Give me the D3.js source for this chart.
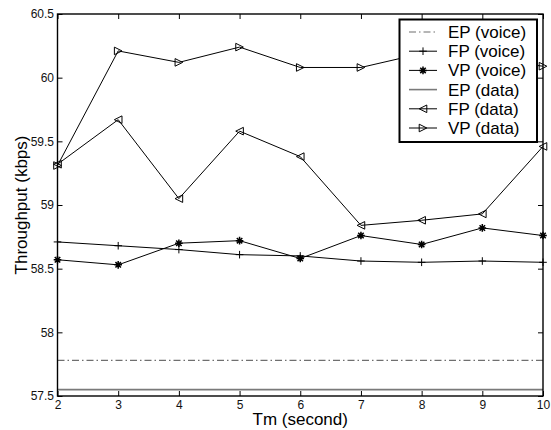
<!DOCTYPE html>
<html>
<head>
<meta charset="utf-8">
<script src="https://cdn.jsdelivr.net/npm/d3@7"></script>
<style>
  html, body { margin: 0; padding: 0; background: #fff; }
  svg { display: block; font-family: "Liberation Sans", Arial, sans-serif; }
</style>
</head>
<body>
<svg id="chart" width="551" height="430"></svg>
<script>
// Throughput vs. measurement interval Tm
const tm = [2, 3, 4, 5, 6, 7, 8, 9, 10];
const epVoice = [57.78, 57.78, 57.78, 57.78, 57.78, 57.78, 57.78, 57.78, 57.78];
const fpVoice = [58.71, 58.68, 58.65, 58.61, 58.60, 58.56, 58.55, 58.56, 58.55];
const vpVoice = [58.57, 58.53, 58.70, 58.72, 58.58, 58.76, 58.69, 58.82, 58.76];
const epData  = [57.55, 57.55, 57.55, 57.55, 57.55, 57.55, 57.55, 57.55, 57.55];
const fpData  = [59.32, 59.67, 59.05, 59.58, 59.38, 58.84, 58.88, 58.93, 59.46];
const vpData  = [59.31, 60.21, 60.12, 60.24, 60.08, 60.08, 60.19, 60.15, 60.09];

const xTicks = [2, 3, 4, 5, 6, 7, 8, 9, 10];
const yTicks = [57.5, 58, 58.5, 59, 59.5, 60, 60.5];
const seriesNames = ["EP (voice)", "FP (voice)", "VP (voice)", "EP (data)", "FP (data)", "VP (data)"];

const svg = d3.select("#chart");
const L = 57.5, R = 543, T = 14, B = 396;

const x = d3.scaleLinear().domain([2, 10]).range([L, R]);
const y = d3.scaleLinear().domain([57.5, 60.5]).range([B, T]);

const grey = "#6f6f6f";
const series = [
  { name: seriesNames[0], values: epVoice, color: grey, dash: "7,3,1.5,3", marker: null, width: 1.2 },
  { name: seriesNames[1], values: fpVoice, color: "#000", dash: null, marker: "plus" },
  { name: seriesNames[2], values: vpVoice, color: "#000", dash: null, marker: "star" },
  { name: seriesNames[3], values: epData,  color: "#7a7a7a", dash: null, marker: null, width: 1.6 },
  { name: seriesNames[4], values: fpData,  color: "#000", dash: null, marker: "tleft" },
  { name: seriesNames[5], values: vpData,  color: "#000", dash: null, marker: "tright" }
];

function markerPath(type) {
  const r = 3.8;
  switch (type) {
    case "plus": return `M${-r},0H${r}M0,${-r}V${r}`;
    case "star": {
      const d = r * 0.72;
      return `M${-r},0H${r}M0,${-r}V${r}M${-d},${-d}L${d},${d}M${-d},${d}L${d},${-d}`;
    }
    case "tleft": return `M${-r},0L${r},${-r}L${r},${r}Z`;
    case "tright": return `M${r},0L${-r},${-r}L${-r},${r}Z`;
  }
  return "";
}

// series lines
const line = d3.line().x((d, i) => x(tm[i])).y(d => y(d));
const plot = svg.append("g");
series.forEach(s => {
  plot.append("path")
    .attr("d", line(s.values))
    .attr("fill", "none")
    .attr("stroke", s.color)
    .attr("stroke-width", s.width || 1)
    .attr("stroke-dasharray", s.dash);
  if (s.marker) {
    plot.selectAll(null).data(s.values).enter().append("path")
      .attr("transform", (d, i) => `translate(${x(tm[i])},${y(d)})`)
      .attr("d", markerPath(s.marker))
      .attr("fill", "none")
      .attr("stroke", s.color)
      .attr("stroke-width", s.marker === "star" ? 1.5 : 1);
  }
});

// axes with inward ticks on all four sides
function styleAxis(g) {
  g.select(".domain").remove();
  g.selectAll(".tick line").attr("stroke", "#000").attr("stroke-width", 1);
  g.selectAll(".tick text").attr("fill", "#111").attr("font-size", 12)
    .attr("font-family", "\"Liberation Sans\", Arial, sans-serif");
}
svg.append("g").attr("transform", `translate(0,${B})`)
  .call(d3.axisBottom(x).tickValues(xTicks).tickSizeInner(-5).tickSizeOuter(0).tickPadding(4).tickFormat(d3.format("d")))
  .call(styleAxis);
svg.append("g").attr("transform", `translate(0,${T})`)
  .call(d3.axisTop(x).tickValues(xTicks).tickSizeInner(-5).tickSizeOuter(0).tickFormat(""))
  .call(styleAxis);
svg.append("g").attr("transform", `translate(${L},0)`)
  .call(d3.axisLeft(y).tickValues(yTicks).tickSizeInner(-5).tickSizeOuter(0).tickPadding(3.5).tickFormat(d => String(d)))
  .call(styleAxis);
svg.append("g").attr("transform", `translate(${R},0)`)
  .call(d3.axisRight(y).tickValues(yTicks).tickSizeInner(-5).tickSizeOuter(0).tickFormat(""))
  .call(styleAxis);

// plot frame
svg.append("rect")
  .attr("x", L).attr("y", T).attr("width", R - L).attr("height", B - T)
  .attr("fill", "none").attr("stroke", "#000").attr("stroke-width", 1.4);

// axis titles
svg.append("text")
  .attr("x", (L + R) / 2).attr("y", 425)
  .attr("text-anchor", "middle").attr("font-size", 17).attr("fill", "#000")
  .text("Tm (second)");
svg.append("text")
  .attr("transform", `translate(27,${(T + B) / 2}) rotate(-90)`)
  .attr("text-anchor", "middle").attr("font-size", 17).attr("fill", "#000")
  .text("Throughput (kbps)");

// legend
const lg = svg.append("g");
lg.append("rect")
  .attr("x", 399.5).attr("y", 19.5).attr("width", 137.5).attr("height", 122.5)
  .attr("fill", "#fff").attr("stroke", "#000").attr("stroke-width", 2);
series.forEach((s, i) => {
  const cy = 32 + i * 19.2;
  lg.append("line")
    .attr("x1", 409).attr("x2", 437).attr("y1", cy).attr("y2", cy)
    .attr("stroke", s.color).attr("stroke-width", s.width || 1)
    .attr("stroke-dasharray", s.dash);
  if (s.marker) {
    lg.append("path")
      .attr("transform", `translate(423,${cy})`)
      .attr("d", markerPath(s.marker))
      .attr("fill", "none").attr("stroke", s.color)
      .attr("stroke-width", s.marker === "star" ? 1.5 : 1);
  }
  lg.append("text")
    .attr("x", 448).attr("y", cy).attr("dy", "0.35em")
    .attr("font-size", 17).attr("fill", "#000")
    .text(s.name);
});
</script>
</body>
</html>
